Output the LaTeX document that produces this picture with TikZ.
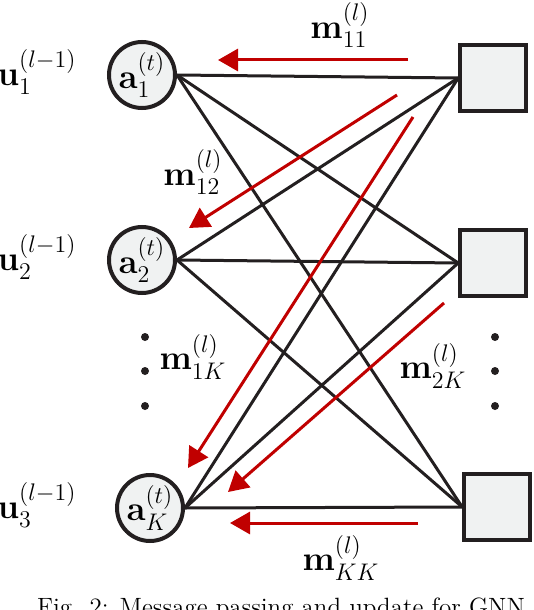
\documentclass[tikz,border=0pt]{standalone}
\usepackage{amsmath}
\usetikzlibrary{arrows.meta}
\definecolor{msgred}{RGB}{192,0,0}
\definecolor{nodegray}{RGB}{240,242,242}
\definecolor{edgeblack}{RGB}{35,31,32}

\begin{document}
\begin{tikzpicture}[x=0.5pt, y=-0.5pt, font=\fontsize{18}{20}\selectfont,
  var/.style={draw=edgeblack, fill=nodegray, circle, line width=2pt, minimum size=33pt, inner sep=0pt},
  fac/.style={draw=edgeblack, fill=nodegray, rectangle, line width=1.8pt, minimum size=33pt, inner sep=0pt},
  link/.style={draw=edgeblack, line width=1.5pt},
  msg/.style={draw=msgred, line width=1.5pt, -{Triangle[length=10pt,width=11pt]}},
  dot/.style={circle, fill=edgeblack, inner sep=0pt, minimum size=4pt}]
  \useasboundingbox (0,0) rectangle (534,610);

  % variable and factor nodes
  \node[var] (A1) at (142,75)  {$\mathbf{a}_1^{(t)}$};
  \node[var] (A2) at (142,260) {$\mathbf{a}_2^{(t)}$};
  \node[var] (AK) at (150,508) {$\mathbf{a}_K^{(t)}$};
  \node[fac] (S1) at (493,78)  {};
  \node[fac] (S2) at (493,263) {};
  \node[fac] (S3) at (497,507) {};

  % inputs
  \node (U1) at (37,72)  {$\mathbf{u}_1^{(l-1)}$};
  \node (U2) at (37,257) {$\mathbf{u}_2^{(l-1)}$};
  \node (U3) at (37,505) {$\mathbf{u}_3^{(l-1)}$};

  % dots
  \node[dot] (L1) at (145,337) {};
  \node[dot] (L2) at (145,371) {};
  \node[dot] (L3) at (145,406) {};
  \node[dot] (R1) at (495,337) {};
  \node[dot] (R2) at (495,371) {};
  \node[dot] (R3) at (495,406) {};

  \draw[link] (A1.east) -- (S1.west);
  \draw[link] (A1.east) -- (S2.west);
  \draw[link] (A1.east) -- (S3.west);
  \draw[link] (A2.east) -- (S1.west);
  \draw[link] (A2.east) -- (S2.west);
  \draw[link] (A2.east) -- (S3.west);
  \draw[link] (AK.east) -- (S1.west);
  \draw[link] (AK.east) -- (S2.west);
  \draw[link] (AK.east) -- (S3.west);

  % messages
  \coordinate (m11s) at (408,60);  \coordinate (m11e) at (218,60);
  \coordinate (m12s) at (397,95);  \coordinate (m12e) at (189,228);
  \coordinate (m1Ks) at (413,117); \coordinate (m1Ke) at (188,468);
  \coordinate (m2Ks) at (444,303); \coordinate (m2Ke) at (228,492);
  \coordinate (mKKs) at (418,523); \coordinate (mKKe) at (230,523);
  \draw[msg] (m11s) -- (m11e);
  \draw[msg] (m12s) -- (m12e);
  \draw[msg] (m1Ks) -- (m1Ke);
  \draw[msg] (m2Ks) -- (m2Ke);
  \draw[msg] (mKKs) -- (mKKe);

  \node (M11) at (340,25)  {$\mathbf{m}_{11}^{(l)}$};
  \node (M12) at (193,172) {$\mathbf{m}_{12}^{(l)}$};
  \node (M1K) at (193,357) {$\mathbf{m}_{1K}^{(l)}$};
  \node (M2K) at (433,366) {$\mathbf{m}_{2K}^{(l)}$};
  \node (MKK) at (341,558) {$\mathbf{m}_{KK}^{(l)}$};

  \node[anchor=base west, font=\fontsize{12.5}{14}\selectfont] (cap) at (30,615) {Fig. 2: Message passing and update for GNN};
\end{tikzpicture}
\end{document}
